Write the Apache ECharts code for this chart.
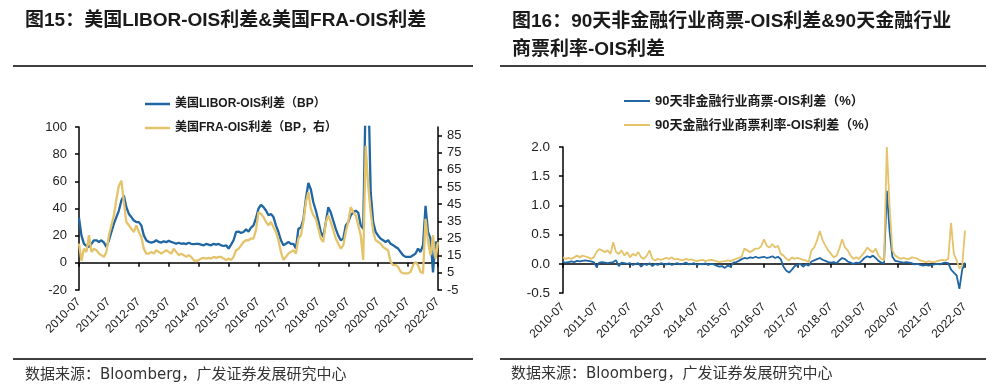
<!DOCTYPE html>
<html><head><meta charset="utf-8">
<script src="https://cdn.jsdelivr.net/npm/echarts@6/dist/echarts.min.js"></script>
<style>html,body{margin:0;padding:0;background:#fff}#c{width:994px;height:392px}</style>
</head><body><div id="c"></div>
<script>
// ---- categories (monthly, 2010-07 .. 2022-07) ----
const startYear = 2010, startMonth = 7, monthCount = 145;
const months = [];
for (let i = 0; i < monthCount; i++) {
  const t = startYear * 12 + (startMonth - 1) + i;
  months.push(Math.floor(t / 12) + '-' + String(t % 12 + 1).padStart(2, '0'));
}

// ---- left chart: US LIBOR-OIS (BP, left axis) ----
const liborOis = [
33,20,14,12.4,11.7,14,16.6,16.6,15.4,16.6,14.9,11.7,
16.6,22.7,28.8,33.7,38.5,45.9,49.5,41,36,33.7,31.2,30,
30,27.6,20.2,16.6,15.4,14.9,15.4,16.6,15.4,14.9,15.9,15.2,
16.3,15.4,14.8,14,14.8,14,14.3,13.8,14.8,14,13.7,14,
14,13.4,12.9,13.9,13.4,12.9,14,13.4,13.9,12.9,12.4,12.9,
10.5,13.4,16.6,22.7,23,22,22.7,24.6,23,26,27.6,33,
40,42.7,41,38.5,35,36,33.7,27.6,22.7,16.6,13,14,
15.4,14,14,10.5,25,26,32,47,58.8,54,44.6,38.5,
31,22.7,19,30,41,37,31,25,20,16.6,17.8,27.6,
30,35,37,38.5,37,27.6,25,125,135,52,30,22.7,
20,17.8,16.6,15.4,16.6,14,13,11.7,10.5,8,5.6,4.4,
4.4,4.4,5.6,6.8,10.5,8,13,42,22.7,17.8,-7,15.4,14
];
// ---- left chart: US FRA-OIS (BP, right axis) ----
const fraOis = [
22,12,19,17.2,26.9,17.2,19,18.2,16.2,15.3,14.3,17.2,
26.9,32.7,38.5,48,55.8,58.7,46.2,34.6,32.7,30.7,28.8,32.7,
28.8,25.9,19,16.2,16.2,17.2,16.2,18.2,17.2,16.2,17.2,18.2,
17.2,16.2,19,17.2,15.3,16.2,15.3,14.3,15.3,14.3,12.4,11.8,
12.4,13.3,13.7,13.3,13.7,13.3,14.3,13.7,14.3,14.3,13.3,12.4,
13.3,12.4,14.3,18.2,19,21,23,24,24,25,25,30,
40.4,39.4,37.5,34.6,32.7,34.6,31.7,28.8,24,17.2,12.5,14.3,
16.2,17.2,18.2,16.2,25,26.9,34.6,46.2,52,42.3,38.5,36.5,
30.7,25,23,34.6,38.5,34.6,29.8,25,22,19.1,21,28.8,
34.6,43.3,40.4,38.5,32.7,26.9,12.5,79,55.8,40.4,28.8,24,
23,22,20,19,18,11.4,9.5,9.5,8.5,5.6,4.7,4.7,
4.7,5.6,9.5,11.4,9.5,5.6,4.7,36.5,23,15.3,26.9,13.3,23
];
// ---- right chart: 90-day non-financial CP - OIS (%) ----
const nonFinCpOis = [
0.03,0.02,0.03,0.04,0.03,0.05,0.04,0.05,0.06,0.05,0.04,0.03,
-0.05,0.02,0.03,0.02,0.01,0.02,0.03,0.06,-0.04,0.02,0.01,0.0,
0.01,-0.02,0.0,0.01,-0.05,0.0,-0.02,0.01,-0.04,0.0,-0.02,0.01,
0.0,-0.01,0.01,-0.02,0.0,0.01,-0.01,0.0,0.02,-0.01,0.0,0.01,
-0.02,0.0,-0.01,0.01,-0.02,0.0,-0.01,-0.03,-0.05,-0.04,-0.07,-0.03,
-0.05,0.02,0.03,0.05,0.08,0.1,0.09,0.11,0.1,0.12,0.1,0.11,
0.12,0.1,0.11,0.13,0.1,0.12,0.08,-0.05,-0.12,-0.15,-0.1,-0.04,
-0.02,0.0,-0.05,-0.01,-0.03,0.04,0.06,0.08,0.1,0.07,0.05,0.03,
0.02,0.03,0.01,0.06,0.1,0.08,0.04,0.02,0.0,0.02,0.01,0.05,
0.1,0.13,0.11,0.14,0.1,0.05,0.02,0.01,1.25,0.55,0.12,0.05,
0.04,0.03,0.02,0.03,0.02,0.01,-0.01,0.0,-0.02,-0.03,-0.02,-0.03,
-0.02,-0.01,0.0,-0.01,0.01,0.02,0.01,-0.1,-0.15,-0.2,-0.43,-0.1,0.02
];
// ---- right chart: 90-day financial CP rate - OIS (%) ----
const finCpOis = [
0.11,0.085,0.1,0.085,0.11,0.14,0.11,0.14,0.125,0.11,0.085,0.11,
0.2,0.25,0.23,0.2,0.23,0.17,0.37,0.2,0.17,0.23,0.14,0.2,
0.11,0.17,0.14,0.2,0.11,0.085,0.14,0.23,0.085,0.057,0.085,0.068,
0.085,0.1,0.085,0.11,0.074,0.085,0.068,0.057,0.085,0.068,0.074,0.057,
0.045,0.057,0.068,0.045,0.057,0.068,0.057,0.045,0.03,0.04,0.045,0.057,
0.045,0.068,0.085,0.1,0.125,0.26,0.23,0.2,0.23,0.26,0.26,0.3,
0.42,0.31,0.28,0.34,0.28,0.31,0.17,0.14,0.085,0.057,0.11,0.085,
0.1,0.085,0.068,0.057,0.03,0.23,0.28,0.4,0.56,0.4,0.31,0.23,
0.17,0.11,0.14,0.26,0.42,0.28,0.23,0.14,0.085,0.11,0.085,0.14,
0.2,0.28,0.23,0.2,0.26,0.14,0.085,0.057,2.0,0.97,0.23,0.14,
0.11,0.085,0.1,0.085,0.085,0.11,0.1,0.085,0.057,0.045,0.03,0.045,
0.03,0.03,0.045,0.057,0.068,0.057,0.085,0.7,0.17,0.057,-0.08,-0.03,0.57
];
const rightAxisTicks = [-5, 5, 15, 25, 35, 45, 55, 65, 75, 85];

const names = {
  libor: '美国LIBOR-OIS利差（BP）',
  fra: '美国FRA-OIS利差（BP，右）',
  nonfin: '90天非金融行业商票-OIS利差（%）',
  fin: '90天金融行业商票利率-OIS利差（%）'
};
const BLUE = '#1f66a3', GOLD = '#e4c36a';
const FONT = '"Liberation Sans","Noto Sans CJK SC",sans-serif';
const SRCFONT = '"DejaVu Sans","Noto Sans CJK SC",sans-serif';

const chart = echarts.init(document.getElementById('c'), null, {renderer: 'canvas'});

function zeroX(grid) {
  return {gridIndex: grid, type: 'category', data: months, boundaryGap: false, position: 'bottom',
    axisLine: {onZero: true, lineStyle: {color: '#000', width: 1.5}},
    axisTick: {show: true, interval: 11, length: 4, inside: false, lineStyle: {color: '#000', width: 1.5}},
    axisLabel: {show: false}, splitLine: {show: false}};
}
function labelX(grid, margin) {
  return {gridIndex: grid, type: 'category', data: months, boundaryGap: false, position: 'bottom',
    axisLine: {show: false, onZero: false}, axisTick: {show: false},
    axisLabel: {interval: 11, rotate: 45, fontSize: 12, color: '#222', margin: margin, fontFamily: FONT},
    splitLine: {show: false}};
}
const axisLineStyle = {show: true, lineStyle: {color: '#000', width: 1.5}};
const tickStyle = {show: true, length: 4, inside: false, lineStyle: {color: '#000', width: 1.5}};

chart.setOption({
  animation: false,
  backgroundColor: '#fff',
  grid: [
    {left: 79, top: 127, width: 359, height: 163, outerBoundsMode: 'none', containLabel: false},
    {left: 563, top: 147, width: 402, height: 146, outerBoundsMode: 'none', containLabel: false}
  ],
  xAxis: [zeroX(0), labelX(0, 10), zeroX(1), labelX(1, 12)],
  yAxis: [
    {gridIndex: 0, type: 'value', position: 'left', min: -20, max: 100, interval: 20,
      axisLine: axisLineStyle, axisTick: tickStyle, splitLine: {show: false},
      axisLabel: {fontSize: 13, color: '#222', margin: 12, fontFamily: FONT}},
    {gridIndex: 0, type: 'value', position: 'right', min: -5, max: 90,
      axisLine: axisLineStyle,
      axisTick: Object.assign({customValues: rightAxisTicks}, tickStyle),
      splitLine: {show: false},
      axisLabel: {customValues: rightAxisTicks, fontSize: 13, color: '#222', margin: 9, fontFamily: FONT}},
    {gridIndex: 1, type: 'value', position: 'left', min: -0.5, max: 2.0, interval: 0.5,
      axisLine: axisLineStyle, axisTick: tickStyle, splitLine: {show: false},
      axisLabel: {fontSize: 13.5, color: '#222', margin: 13, fontFamily: FONT,
        formatter: v => v.toFixed(1)}}
  ],
  legend: [
    {data: [names.libor, names.fra], orient: 'vertical', left: 140, top: 92, icon: 'rect',
      itemWidth: 25, itemHeight: 2.5, itemGap: 10,
      textStyle: {fontSize: 12, fontWeight: 'bold', color: '#1a1a1a', fontFamily: FONT, lineHeight: 14}},
    {data: [names.nonfin, names.fin], orient: 'vertical', left: 619, top: 89, icon: 'rect',
      itemWidth: 26, itemHeight: 2, itemGap: 10,
      textStyle: {fontSize: 13, fontWeight: 'bold', color: '#1a1a1a', fontFamily: FONT, lineHeight: 14}}
  ],
  series: [
    {name: names.libor, type: 'line', xAxisIndex: 0, yAxisIndex: 0, data: liborOis, symbol: 'none',
      lineStyle: {width: 2.3, color: BLUE}, itemStyle: {color: BLUE}, clip: true, z: 2},
    {name: names.fra, type: 'line', xAxisIndex: 0, yAxisIndex: 1, data: fraOis, symbol: 'none',
      lineStyle: {width: 2.3, color: GOLD}, itemStyle: {color: GOLD}, clip: true, z: 3},
    {name: names.nonfin, type: 'line', xAxisIndex: 2, yAxisIndex: 2, data: nonFinCpOis, symbol: 'none',
      lineStyle: {width: 1.8, color: BLUE}, itemStyle: {color: BLUE}, clip: true, z: 2},
    {name: names.fin, type: 'line', xAxisIndex: 2, yAxisIndex: 2, data: finCpOis, symbol: 'none',
      lineStyle: {width: 1.8, color: GOLD}, itemStyle: {color: GOLD}, clip: true, z: 3}
  ],
  graphic: [
    {type: 'text', left: 25, top: 11, style: {text: '图15：美国LIBOR-OIS利差&美国FRA-OIS利差',
      font: 'bold 19px ' + FONT, fill: '#1a1a1a'}},
    {type: 'text', left: 512, top: 12, style: {text: '图16：90天非金融行业商票-OIS利差&90天金融行业',
      font: 'bold 19px ' + FONT, fill: '#1a1a1a'}},
    {type: 'text', left: 512, top: 40, style: {text: '商票利率-OIS利差',
      font: 'bold 19px ' + FONT, fill: '#1a1a1a'}},
    {type: 'line', shape: {x1: 13, y1: 66, x2: 473, y2: 66}, style: {stroke: '#000', lineWidth: 1.3}},
    {type: 'line', shape: {x1: 500, y1: 66, x2: 986, y2: 66}, style: {stroke: '#000', lineWidth: 1.3}},
    {type: 'line', shape: {x1: 13, y1: 359, x2: 473, y2: 359}, style: {stroke: '#000', lineWidth: 1.3}},
    {type: 'line', shape: {x1: 500, y1: 359, x2: 986, y2: 359}, style: {stroke: '#000', lineWidth: 1.3}},
    {type: 'text', left: 25, top: 368, style: {text: '数据来源：Bloomberg，广发证券发展研究中心',
      font: '15px ' + SRCFONT, fill: '#333'}},
    {type: 'text', left: 511, top: 367, style: {text: '数据来源：Bloomberg，广发证券发展研究中心',
      font: '15px ' + SRCFONT, fill: '#333'}}
  ]
});
</script></body></html>
